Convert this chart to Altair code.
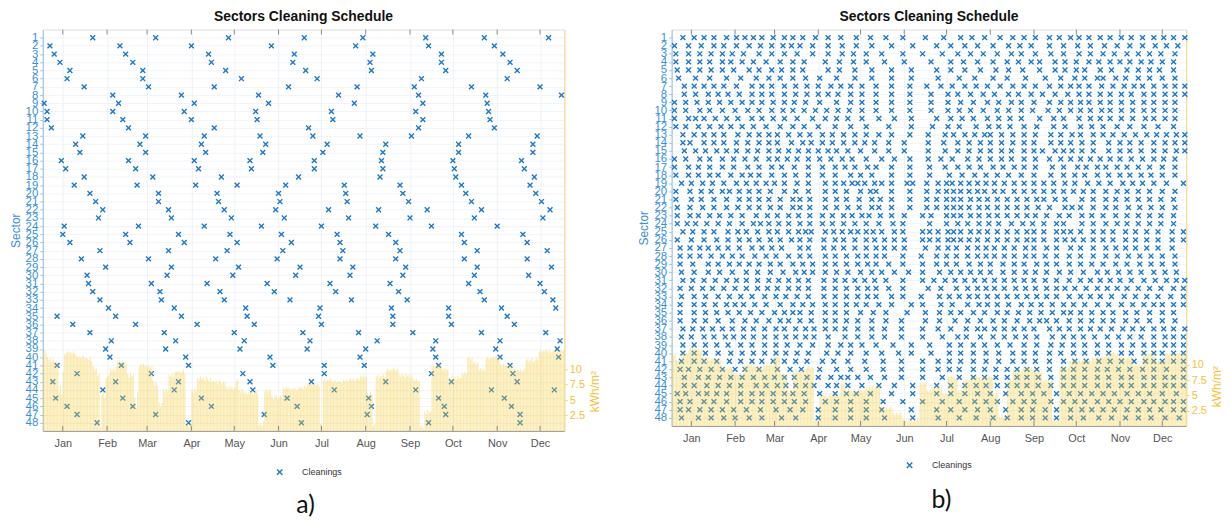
import altair as alt
import pandas as pd

MONTHS = ["Jan", "Feb", "Mar", "Apr", "May", "Jun", "Jul", "Aug", "Sep", "Oct", "Nov", "Dec"]
MONTH_TICKS = [14, 45, 73, 104, 134, 165, 195, 226, 257, 287, 318, 348]
SECTORS = list(range(1, 49))
IRR_TICKS = [2.5, 5, 7.5, 10]

# Panel a) cleaning days (day of year) per sector 1..48
A_CLEAN = [
    [35, 79, 130, 183, 224, 268, 309, 354],
    [5, 54, 104, 160, 219, 270, 316],
    [8, 58, 116, 176, 231, 279, 322],
    [12, 63, 118, 175, 229, 279, 327],
    [19, 70, 128, 184, 230, 282, 332],
    [17, 70, 139, 192, 265, 325],
    [29, 74, 120, 172, 220, 260, 300, 348],
    [49, 97, 151, 207, 263, 310, 363],
    [1, 53, 106, 158, 218, 266, 311],
    [3, 49, 99, 149, 202, 261, 312],
    [3, 56, 104, 150, 203, 266, 313],
    [6, 60, 120, 186, 263, 316],
    [28, 72, 113, 152, 189, 222, 258, 298, 346],
    [23, 68, 111, 156, 199, 240, 291, 343],
    [26, 72, 114, 154, 196, 238, 291, 343],
    [13, 60, 106, 145, 190, 237, 287, 335],
    [16, 65, 109, 146, 190, 238, 288, 337],
    [29, 77, 125, 179, 236, 289, 344],
    [22, 66, 107, 136, 170, 211, 250, 293, 341],
    [33, 81, 122, 165, 212, 252, 296, 345],
    [37, 81, 123, 166, 213, 256, 300, 349],
    [42, 88, 127, 163, 200, 235, 269, 307, 355],
    [39, 90, 132, 169, 214, 257, 302, 350],
    [15, 67, 113, 153, 195, 233, 272, 318],
    [14, 58, 95, 131, 167, 206, 242, 293, 336],
    [19, 61, 99, 136, 174, 208, 247, 295, 339],
    [40, 88, 129, 168, 210, 250, 304, 353],
    [27, 74, 121, 164, 208, 247, 295, 339],
    [44, 90, 137, 180, 217, 254, 304, 356],
    [31, 87, 133, 177, 215, 252, 302, 340],
    [32, 76, 115, 157, 201, 243, 298, 348],
    [35, 82, 124, 162, 205, 249, 306, 351],
    [40, 83, 127, 173, 216, 255, 309, 357],
    [46, 92, 142, 194, 244, 284, 321, 359],
    [10, 51, 97, 143, 193, 245, 284, 325],
    [21, 65, 108, 148, 195, 245, 286, 330],
    [33, 85, 134, 182, 221, 259, 307, 352],
    [48, 93, 141, 187, 234, 275, 320, 362],
    [44, 86, 138, 185, 226, 273, 317, 360],
    [47, 100, 159, 222, 275, 320, 361],
    [10, 55, 102, 161, 197, 225, 277, 327],
    [24, 76, 140, 197, 272, 329],
    [7, 51, 95, 145, 188, 240, 286, 332],
    [42, 92, 147, 204, 261, 314, 358],
    [9, 56, 111, 171, 228, 277, 323],
    [17, 63, 118, 178, 230, 281, 328],
    [24, 79, 155, 227, 282, 334],
    [38, 102, 181, 270, 334],
]

# Panel b) cleaning days per sector 1..48
B_CLEAN = [
    [8,16,23,30,39,46,52,58,64,72,80,86,93,102,111,120,131,141,152,164,180,193,205,213,222,233,242,250,258,268,275,283,289,296,304,311,319,326,334,342,349,356,364],
    [2,12,21,30,37,46,55,63,71,79,85,91,100,111,121,131,142,156,171,188,198,208,217,228,239,247,255,268,278,288,297,307,316,325,334,343,351,359],
    [3,12,20,28,36,43,51,62,71,80,89,100,111,121,129,138,149,164,178,192,203,212,221,231,241,248,258,269,278,289,297,306,314,323,331,339,347,357],
    [3,12,20,27,36,42,50,58,67,77,86,94,109,119,129,138,151,165,184,198,207,217,228,238,246,255,261,272,279,287,296,303,311,318,325,333,340,348,356],
    [4,12,20,28,36,44,55,62,71,78,86,93,111,119,130,142,156,170,188,198,208,219,230,239,249,261,272,279,287,293,304,312,323,331,339,346,356],
    [5,17,27,39,49,60,69,77,86,95,105,117,130,142,156,170,189,204,215,228,238,251,265,276,286,293,302,306,315,322,331,339,348,357],
    [9,16,23,30,37,46,57,64,71,80,88,96,104,113,120,127,135,145,156,169,181,191,199,208,216,224,233,242,250,258,268,276,283,289,296,305,313,321,328,334,342,350,357,364],
    [9,17,26,33,40,48,57,64,71,80,88,96,104,111,118,127,135,145,156,169,184,196,203,212,221,229,239,246,255,263,272,281,289,296,304,311,319,326,335,342,350,357,364],
    [2,10,18,26,34,42,50,57,64,72,80,87,95,105,117,127,135,145,156,169,184,196,205,214,224,232,241,248,257,268,276,283,290,296,304,311,319,327,335,342,350,357],
    [2,10,20,27,36,45,54,62,71,79,86,94,102,110,118,126,135,145,156,169,184,196,204,212,221,231,239,248,256,267,275,283,290,297,305,311,319,327,335,342,350,357],
    [2,12,17,23,31,39,47,57,64,72,80,89,100,109,117,125,135,147,158,170,188,198,206,214,224,232,240,248,261,271,278,289,297,304,311,319,327,336,342,350,357],
    [3,10,19,27,35,42,50,58,67,77,86,94,104,116,127,138,154,170,185,196,204,216,225,232,240,250,259,271,279,290,298,306,316,325,335,345,356],
    [8,16,23,30,37,47,55,62,69,75,83,91,98,107,114,122,130,138,147,156,169,182,194,200,208,215,222,226,234,242,250,258,269,276,284,290,299,306,313,321,329,337,344,351,358,364],
    [8,13,23,30,37,46,54,62,69,75,85,93,99,107,114,122,130,137,144,154,165,182,193,203,211,219,226,234,242,250,257,269,276,283,291,299,310,318,325,333,342,350,357,364],
    [9,17,24,32,39,46,54,61,69,76,83,90,97,104,111,117,125,134,144,154,165,182,194,203,211,219,226,234,241,250,257,263,272,278,284,291,299,310,318,325,333,342,350,358,364],
    [2,10,20,27,36,44,52,60,69,75,82,89,97,105,113,121,128,138,149,158,169,182,191,199,210,218,226,234,241,250,258,268,276,283,290,297,304,311,318,326,334,342,349,357],
    [2,12,19,27,36,44,54,62,71,78,87,97,107,116,123,130,139,145,156,169,183,194,203,211,219,228,235,243,250,258,270,278,288,294,302,308,316,323,331,339,348,357],
    [3,12,19,27,33,42,50,56,62,71,80,88,97,107,116,127,134,142,156,169,183,197,206,215,223,231,239,248,257,269,278,286,293,302,310,318,325,333,340,348,357],
    [7,14,22,29,37,46,53,60,67,73,80,89,97,109,116,122,128,132,137,144,149,156,167,171,181,189,195,199,205,211,217,223,229,236,243,250,257,264,271,279,286,295,303,311,320,327,334,342,351,363],
    [3,13,21,28,36,41,48,55,62,70,80,88,97,109,116,124,134,141,145,156,169,181,189,195,200,205,211,217,222,229,235,243,250,257,264,271,278,285,292,299,308,316,323,331,339,348,357],
    [3,14,21,30,39,48,55,62,69,77,86,91,98,109,117,124,133,142,148,156,169,181,188,195,200,205,212,218,224,231,238,245,252,259,264,272,279,291,299,308,315,323,331,339,347,356],
    [4,13,22,30,39,47,55,62,70,77,86,91,98,109,117,125,133,142,147,156,169,181,188,195,200,205,211,218,224,231,238,245,252,260,268,279,284,290,299,308,315,324,332,340,348,357],
    [4,13,19,27,34,42,50,60,68,75,83,90,98,107,114,122,128,135,140,148,156,165,178,184,195,200,205,212,218,225,231,238,245,252,258,266,275,282,291,298,306,315,323,331,339,347,356],
    [4,11,17,25,33,41,50,58,63,69,76,83,91,98,107,114,122,130,138,147,157,164,183,195,203,210,218,225,232,241,249,256,264,273,278,291,299,308,316,323,331,339,347,356],
    [8,15,23,30,40,47,53,61,69,75,83,90,95,99,109,115,121,127,132,138,143,149,158,164,178,183,189,196,200,205,212,218,224,231,238,245,252,257,264,273,278,283,290,299,306,313,322,329,337,345,355,363],
    [4,14,23,32,40,48,55,62,70,77,85,91,98,108,116,122,130,138,144,151,158,165,178,183,189,196,200,205,211,217,224,231,238,245,252,257,264,273,279,285,292,299,306,313,322,329,337,345,355,363],
    [6,13,20,26,33,40,48,57,64,71,78,91,97,108,115,122,130,138,145,151,158,165,180,189,196,202,210,217,223,229,236,243,251,257,266,273,283,290,299,308,315,322,329,337,345,355],
    [6,13,20,28,36,43,50,59,67,74,83,91,98,109,116,124,132,138,145,151,164,177,188,195,202,210,217,223,229,236,243,251,257,265,273,282,290,299,308,316,324,332,340,348,357],
    [6,15,26,33,41,48,55,62,70,77,86,93,100,109,116,124,132,139,145,154,164,178,188,195,202,211,219,226,235,243,250,259,266,273,282,290,298,306,315,323,332,340,348,357],
    [7,16,26,34,43,53,61,70,79,88,94,100,109,117,125,134,142,149,158,168,178,190,198,205,212,219,226,235,243,251,258,266,275,283,292,302,309,317,325,333,342,350,358],
    [8,15,23,31,39,46,53,61,69,76,83,90,97,108,116,123,130,137,144,152,164,178,186,194,201,208,215,222,229,236,243,250,257,265,273,282,290,297,304,311,318,326,335,343,351,358,364],
    [6,14,22,29,37,45,53,61,68,75,83,90,97,108,116,124,132,139,145,154,164,182,191,202,210,217,223,229,236,244,251,258,266,273,279,286,294,302,309,316,323,331,339,347,356,363],
    [7,16,24,33,41,49,57,66,74,81,89,97,108,116,124,132,139,145,156,164,177,190,197,204,211,217,224,231,238,245,252,259,266,273,282,290,297,304,312,321,329,337,345,354,363],
    [6,16,23,31,39,45,51,59,67,77,86,93,100,109,116,124,131,138,147,156,170,178,191,199,210,218,224,231,239,248,255,262,270,278,285,293,302,310,319,327,335,342,348,356,363],
    [6,16,24,32,40,48,56,64,73,80,86,91,99,109,116,124,134,143,152,167,180,190,198,205,214,222,231,238,246,254,262,270,278,283,290,298,306,313,322,330,339,348,356],
    [6,16,24,33,43,52,60,69,77,83,91,99,109,116,124,132,142,152,163,180,190,201,210,219,228,236,245,254,261,266,273,282,290,298,306,313,322,330,339,348,357],
    [8,15,22,29,36,43,51,58,66,74,80,88,95,101,109,116,123,132,142,151,163,178,189,198,209,217,222,229,236,243,250,257,268,275,282,290,297,304,312,320,327,334,342,349,356,364],
    [7,14,23,30,38,44,51,58,66,74,81,88,95,101,111,123,132,142,151,163,178,192,203,209,219,228,236,244,251,259,270,278,285,292,300,309,317,325,333,342,350,356,363],
    [8,16,24,32,40,49,57,66,74,82,91,100,111,120,127,135,145,157,170,183,197,205,214,222,231,240,250,259,269,277,285,293,302,310,319,327,335,342,350,356,363],
    [8,16,24,33,42,50,58,66,74,81,89,97,110,118,127,138,149,161,170,184,197,205,214,223,232,242,250,258,268,276,285,293,302,310,319,326,335,342,348,356,363],
    [7,16,23,32,41,49,57,64,72,80,88,96,107,115,125,137,150,163,178,189,197,205,214,223,232,242,250,258,268,278,286,294,303,311,319,328,336,342,348,356,363],
    [6,12,20,28,36,45,52,62,75,84,92,105,117,127,138,150,163,178,189,197,204,214,222,230,238,245,252,259,268,278,285,293,302,309,317,325,334,342,351,363],
    [9,19,26,34,42,50,58,66,73,80,87,96,104,113,120,125,132,141,151,163,178,192,204,214,222,230,238,245,252,260,269,278,285,293,302,310,319,326,335,342,350,356,363],
    [9,16,25,33,41,49,60,67,75,81,88,95,101,111,117,125,135,147,158,171,188,198,208,216,223,231,238,245,252,260,269,278,285,293,302,310,319,326,335,342,350,356,363],
    [4,10,19,25,32,39,49,57,64,72,80,86,94,105,116,124,131,141,156,171,188,198,208,217,226,237,248,256,264,273,282,290,298,306,314,323,331,339,348,358],
    [6,13,23,30,39,49,57,64,72,80,87,95,109,117,127,138,150,164,178,192,204,215,223,231,242,250,257,269,278,286,293,302,310,318,326,335,342,350,356,363],
    [6,12,20,28,36,44,53,63,74,84,93,104,116,127,138,149,170,188,198,208,217,226,237,248,256,265,273,283,291,298,306,314,323,331,339,347,356,363],
    [7,19,28,37,45,55,64,78,88,104,116,127,138,151,171,189,204,216,228,238,248,256,265,273,283,292,303,312,322,331,340,350,360],
]

# Daily irradiation (kWh/m2), one list per month
A_IRR = [
    [12.8,13.1,12.6,11.9,11.4,11.8,11.2,11.6,10.9,11.3,10.8,6.2,7.4,5.8,9.6,12.4,12.6,12.9,12.7,12.8,12.5,12.9,12.6,12.2,11.9,12.1,11.8,12.0,12.2,11.7,11.9],
    [11.7,11.5,11.9,11.2,10.4,9.8,10.1,8.9,9.2,0.6,5.8,6.4,5.2,8.6,8.9,9.1,10.2,9.8,10.1,9.7,10.4,11.2,11.5,11.1,11.4,11.0,11.3,10.8],
    [9.2,8.7,9.4,8.9,9.1,5.4,3.8,6.2,10.4,10.8,10.6,10.9,10.5,10.7,10.3,10.6,10.2,10.5,8.1,7.4,7.9,7.2,4.6,3.9,4.5,6.8,6.2,6.9,6.4,9.1,8.8],
    [9.2,8.7,9.4,9.7,9.5,9.8,9.4,9.6,9.9,9.3,0.9,1.4,0.6,1.2,6.7,6.2,6.9,6.4,8.6,8.3,8.8,8.4,8.7,8.2,8.9,8.5,8.1,8.6,7.9,8.2],
    [7.8,8.1,7.6,8.3,7.9,7.5,8.0,7.7,7.1,6.8,7.3,6.9,7.2,6.7,7.0,8.1,8.4,6.6,6.2,6.9,6.4,6.0,6.3,5.9,6.4,6.1,6.6,5.8,6.2,6.5,6.0],
    [0.9,1.3,0.7,1.6,6.4,6.8,6.2,6.7,6.5,5.6,5.1,5.5,5.8,5.2,5.4,5.7,5.3,7.1,6.8,7.2,6.9,7.0,6.6,6.9,6.7,7.0,6.5,6.8,7.1,6.9],
    [7.1,6.8,7.3,7.0,7.6,7.4,7.8,7.5,7.3,7.7,7.4,7.6,7.2,1.2,0.8,8.1,8.4,8.0,8.3,8.2,8.5,8.1,7.9,8.2,7.8,8.1,7.9,8.0,7.7,8.3,8.1],
    [8.4,8.0,8.3,8.6,8.2,8.5,8.1,8.4,8.7,8.3,8.9,8.6,9.0,8.7,8.8,6.2,5.8,6.3,5.9,0.7,1.1,8.7,9.0,8.6,8.9,8.8,9.1,8.7,9.8,10.1,9.7],
    [10.0,9.8,10.2,9.9,9.7,10.1,9.1,8.8,9.2,9.0,8.7,9.3,8.9,9.1,8.6,9.0,8.3,8.1,8.4,8.0,8.2,0.6,0.9,0.4,3.2,2.7,3.4,2.9,3.1,10.5],
    [10.7,10.4,10.8,10.5,10.9,10.6,10.1,9.8,10.2,9.9,10.0,8.7,8.2,9.0,8.4,8.8,8.3,8.9,8.5,8.6,9.4,9.1,9.5,9.2,11.8,12.0,11.6,11.9,11.0,11.2,10.8],
    [11.1,9.9,10.2,9.7,10.0,9.8,11.7,12.0,11.6,11.9,11.8,12.1,11.9,12.2,11.8,12.0,10.8,10.5,10.9,10.6,10.7,10.4,10.8,10.5,10.9,9.8,10.1,9.6,9.9,9.7],
    [10.0,9.5,9.9,10.2,11.4,11.7,11.3,11.6,11.8,11.2,11.5,11.9,11.4,12.8,13.1,12.7,13.0,12.9,13.2,12.8,13.1,12.6,13.0,12.9,13.2,12.7,13.0,12.8,13.1,12.9,13.0],
]

B_IRR = [
    [11.8,11.6,11.9,10.8,10.5,10.9,10.6,11.7,11.9,11.6,12.0,11.8,12.5,12.8,12.4,12.7,12.6,12.9,12.5,12.7,12.3,12.6,11.1,10.8,11.2,10.9,11.3,10.7,11.0,11.2,10.9],
    [11.1,10.8,11.2,10.9,9.7,9.3,9.8,9.4,9.6,9.2,9.7,9.5,9.1,8.6,8.3,8.7,8.4,8.6,8.2,8.5,10.1,9.8,10.2,9.9,10.0,10.3,9.7,10.1],
    [9.7,9.4,9.8,9.5,9.6,9.3,10.1,9.8,10.2,9.9,10.0,10.3,9.7,11.2,11.0,11.4,11.1,11.3,8.6,8.3,8.7,8.4,8.5,5.9,5.5,6.1,5.7,9.1,8.8,9.2,8.9],
    [9.1,8.8,9.2,8.9,9.0,9.3,9.6,9.8,9.4,9.7,9.5,0.8,1.2,0.6,1.0,5.1,4.8,5.3,4.9,5.2,4.7,5.0,5.4,4.8,5.1,4.9,5.3,5.0,4.8,5.2],
    [7.0,6.8,7.2,5.9,5.6,6.0,5.7,5.9,5.5,6.1,5.8,5.6,6.0,5.7,5.9,5.5,5.8,6.0,6.4,6.2,6.6,6.3,6.5,6.1,6.4,6.7,6.2,6.5,3.1,2.8,3.2],
    [2.9,3.3,2.7,3.0,3.2,2.8,2.1,1.8,2.2,1.9,2.0,2.3,1.7,1.0,0.8,1.2,0.6,1.1,0.9,1.3,0.7,1.0,0.8,1.2,0.9,7.1,6.8,7.2,6.9,7.0],
    [5.9,5.6,6.0,5.7,6.4,6.2,6.6,6.3,6.5,6.1,6.4,5.3,5.0,5.5,5.2,8.0,7.8,8.2,7.9,8.1,7.7,8.0,5.8,5.5,6.0,5.7,7.5,7.3,7.7,7.4,7.6],
    [7.4,7.8,8.0,7.8,8.2,7.9,8.1,7.7,8.0,8.3,7.9,8.1,7.8,8.2,8.0,7.9,5.3,5.0,5.5,5.2,1.5,1.2,1.8,1.4,1.6,1.3,7.5,7.3,7.7,7.4,9.1],
    [8.8,9.2,8.9,9.1,8.7,9.0,9.6,9.4,9.8,9.5,9.7,9.3,9.6,9.0,8.8,9.2,8.9,9.1,8.7,9.0,7.5,7.3,7.7,7.4,7.6,7.2,7.5,0.8,1.1,0.6],
    [0.9,1.2,9.6,9.4,9.8,9.5,9.7,9.3,9.6,10.7,10.5,10.9,10.6,10.8,10.4,10.7,10.9,10.5,10.8,10.6,10.9,10.5,10.7,10.8,10.4,11.2,11.0,11.4,11.1,11.3,10.9],
    [11.2,11.4,11.0,11.3,11.8,12.0,11.6,11.9,11.7,12.1,11.8,11.5,11.9,11.2,11.0,11.4,11.1,11.3,10.9,11.2,11.4,11.0,11.3,10.0,9.8,10.2,9.9,10.1,9.7,10.0],
    [11.8,11.5,11.9,11.6,12.0,11.7,11.9,11.5,11.8,10.7,10.5,10.9,10.6,10.8,10.4,10.7,11.8,12.0,11.6,11.9,11.7,12.1,11.8,11.5,11.9,11.7,12.0,11.6,11.8,12.1,11.9],
]

BLUE = "#1f77c8"
BLUE_TXT = "#3a8fd8"
YELLOW = "#f5cc3c"
YELLOW_TXT = "#f2c23a"
XPATH = "M-1,-1L1,1M-1,1L1,-1"
FONT = "Liberation Sans"

month_expr = "[" + ",".join(f"'{m}'" for m in MONTHS) + "][indexof([" + ",".join(str(t) for t in MONTH_TICKS) + "], datum.value)]"


def panel(clean, irr, w, h, caption, cap_x, leg_x, leg_y):
    cdf = pd.DataFrame(
        [{"day": d, "sector": i + 1, "series": "Cleanings"} for i, days in enumerate(clean) for d in days]
    )
    vals = [v for month in irr for v in month]
    idf = pd.DataFrame({"d0": list(range(len(vals))), "irr": vals})
    idf["d1"] = idf["d0"] + 0.8
    tdf = pd.DataFrame({"day": MONTH_TICKS})
    xs = alt.Scale(domain=[0, 365], nice=False, zero=False)

    pts = alt.Chart(cdf).mark_point(
        shape=XPATH, filled=False, strokeWidth=1.4, size=24, opacity=1
    ).encode(
        x=alt.X("day:Q", scale=xs, axis=alt.Axis(
            values=MONTH_TICKS, labelExpr=month_expr, ticks=False, grid=True,
            gridColor="#edf1f5", domainColor="#9a9a9a", labelColor="#555555",
            labelFontSize=11, labelPadding=7, labelFont=FONT,
            title=caption, titleFont="Lato", titleFontSize=25, titleFontWeight="normal",
            titleColor="#111111", titleX=cap_x, titleY=74, titleAlign="center",
            titleBaseline="middle")),
        y=alt.Y("sector:Q", scale=alt.Scale(domain=[0, 49], reverse=True, nice=False, zero=False),
                axis=alt.Axis(values=SECTORS, labelOverlap=False, labelColor=BLUE_TXT,
                              labelFontSize=11.5, labelFont=FONT, labelPadding=2, tickSize=3,
                              tickColor="#9cc3e6", domainColor="#9cc3e6", grid=True,
                              gridColor="#f0f4f8", title="Sector", titleColor=BLUE_TXT,
                              titleFontWeight="normal", titleFontSize=12, titleFont=FONT,
                              titlePadding=3, labelFlush=False)),
        color=alt.Color("series:N", scale=alt.Scale(range=[BLUE]), legend=alt.Legend(
            title=None, orient="none", legendX=leg_x, legendY=leg_y, symbolType=XPATH,
            symbolStrokeWidth=1.4, symbolSize=30, labelFontSize=9, labelColor="#333333",
            labelFont=FONT, labelOffset=18, padding=0)),
    )

    bars = alt.Chart(idf).mark_bar(color=YELLOW, opacity=0.42).encode(
        x=alt.X("d0:Q", scale=xs, axis=None),
        x2="d1:Q",
        y=alt.Y("irr:Q", scale=alt.Scale(domain=[0, 65], nice=False, zero=True),
                axis=alt.Axis(orient="right", values=IRR_TICKS, format=".1~f", labelColor=YELLOW_TXT,
                              labelFontSize=11, labelFont=FONT, tickColor="#f5d76e", tickSize=3,
                              domainColor="#f7dc8a", grid=False, title="kWh/m²",
                              titleColor=YELLOW_TXT, titleFontWeight="normal", titleFontSize=12,
                              titleFont=FONT, titleAngle=270, titleX=30, titleY=h - 40,
                              titleAlign="center", titleBaseline="middle")),
        y2=alt.datum(0),
    )

    top_ticks = alt.Chart(tdf).mark_rule(color="#8a8a8a", strokeWidth=1).encode(
        x=alt.X("day:Q", scale=xs, axis=None), y=alt.value(0), y2=alt.value(5)
    )
    bot_ticks = alt.Chart(tdf).mark_rule(color="#8a8a8a", strokeWidth=1).encode(
        x=alt.X("day:Q", scale=xs, axis=None), y=alt.value(h - 5), y2=alt.value(h)
    )

    return alt.layer(pts, bars, top_ticks, bot_ticks).resolve_scale(
        y="independent"
    ).resolve_axis(x="independent").properties(
        width=w, height=h,
        title=alt.TitleParams("Sectors Cleaning Schedule", fontSize=14, fontWeight="bold",
                              font=FONT, color="#111111", offset=5, anchor="middle"),
    )


pa = panel(A_CLEAN, A_IRR, 525, 404, "a)", 264, 234, 441)
pb = panel(B_CLEAN, B_IRR, 518, 399, "b)", 271, 235, 434)

chart = alt.hconcat(pa, pb, spacing=36).resolve_scale(color="independent").resolve_legend(
    color="independent"
).properties(
    padding={"left": 0, "top": 0, "right": 0, "bottom": 0}
).configure_view(stroke="#c4c4c4").configure(background="white")

chart.save("out.html", embed_options={"renderer": "svg", "actions": False})
